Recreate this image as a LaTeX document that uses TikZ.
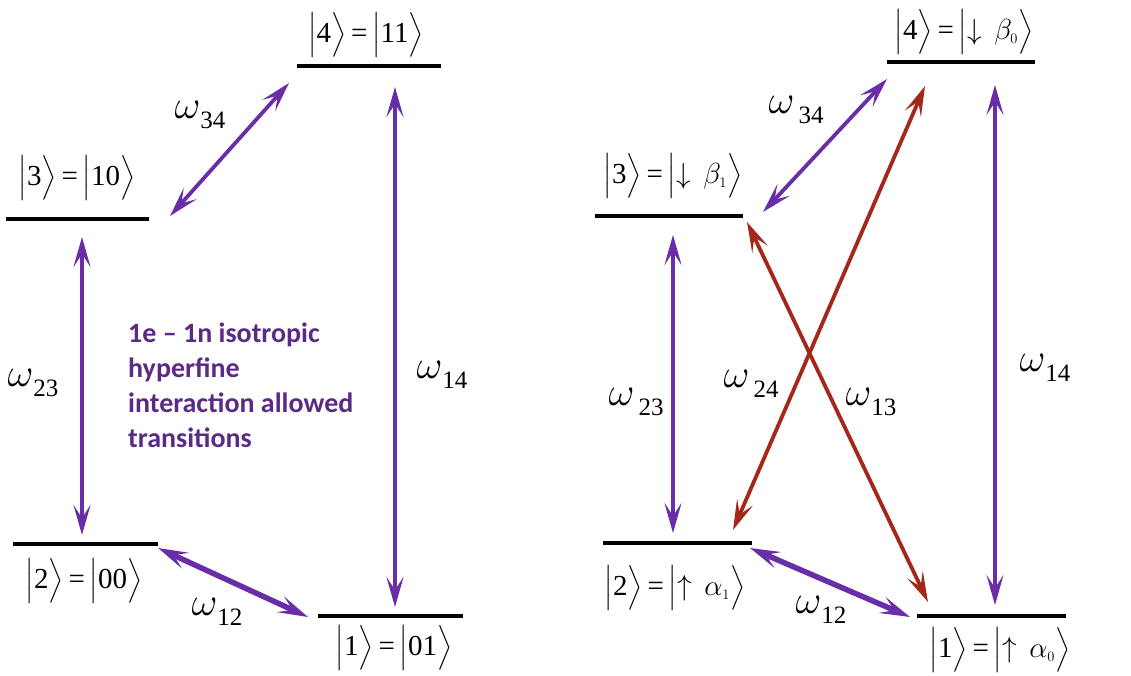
\RequirePackage{fix-cm}
\documentclass[tikz,border=0pt]{standalone}
\usepackage{amsmath}
\usepackage{fontspec}
\setmainfont{Liberation Serif}
\newfontfamily\calib{Carlito}
\usetikzlibrary{arrows.meta}
\definecolor{vio}{HTML}{6A2DA8}
\definecolor{rd}{HTML}{A3281A}
\definecolor{txtvio}{HTML}{5B2A86}
\newcommand\om[1]{{\fontsize{40}{40}\selectfont$\omega$}\raisebox{-10pt}{\fontsize{25}{25}\selectfont #1}}
\newcommand\kt[1]{$\bigl|$#1$\bigr\rangle$}
\newcommand\eqs{\,=\,}
\tikzset{
  level/.style={line width=3.5pt},
  ket/.style={font=\fontsize{29}{29}\selectfont, inner sep=0pt},
  wlab/.style={inner sep=0pt},
  tr/.style={line width=3.8pt, vio, {Stealth[length=30pt,width=17pt,inset=13pt]}-{Stealth[length=30pt,width=17pt,inset=13pt]}},
  trr/.style={tr, rd},
  trw/.style={tr, line width=5.5pt},
}
\begin{document}
\begin{tikzpicture}[x=1pt,y=-1pt]
\useasboundingbox (0,0) rectangle (1131,676);
% ---------- left panel: levels ----------
\coordinate (L4a) at (297,66);  \coordinate (L4b) at (441,66);
\coordinate (L3a) at (6,219);   \coordinate (L3b) at (149,219);
\coordinate (L2a) at (13,544);  \coordinate (L2b) at (158,544);
\coordinate (L1a) at (318,616); \coordinate (L1b) at (463,616);
\foreach \n in {L4,L3,L2,L1} \draw[level] (\n a) -- (\n b);
\node[ket] (k4) at (366,35)  {\kt{4}\eqs\kt{11}};
\node[ket] (k3) at (77,178)  {\kt{3}\eqs\kt{10}};
\node[ket] (k2) at (84,581)  {\kt{2}\eqs\kt{00}};
\node[ket] (k1) at (394,648) {\kt{1}\eqs\kt{01}};
% arrows left
\coordinate (a34s) at (170,216); \coordinate (a34e) at (289,83);
\coordinate (a14s) at (395,87);  \coordinate (a14e) at (395,607);
\coordinate (a23s) at (82,237);  \coordinate (a23e) at (82,535);
\coordinate (a12s) at (158,548); \coordinate (a12e) at (308,617);
\draw[tr] (a34s) -- (a34e);
\draw[tr] (a14s) -- (a14e);
\draw[tr] (a23s) -- (a23e);
\draw[trw] (a12s) -- (a12e);
\node[wlab] (w34) at (200,115) {\om{34}};
\node[wlab] (w23) at (33,383)  {\om{23}};
\node[wlab] (w14) at (442,375) {\om{14}};
\node[wlab] (w12) at (217,612) {\om{12}};
\node[anchor=west, align=left, text=txtvio, inner sep=0pt,
      font=\calib\bfseries\fontsize{28}{35}\selectfont] (note) at (128,385)
  {1e – 1n isotropic\\hyperfine\\interaction allowed\\transitions};
% ---------- right panel: levels ----------
\coordinate (R4a) at (887,62);  \coordinate (R4b) at (1035,62);
\coordinate (R3a) at (595,216); \coordinate (R3b) at (743,216);
\coordinate (R2a) at (603,543); \coordinate (R2b) at (752,543);
\coordinate (R1a) at (917,616); \coordinate (R1b) at (1066,616);
\foreach \n in {R4,R3,R2,R1} \draw[level] (\n a) -- (\n b);
\node[ket] (r4) at (964,32)   {\kt{4}\eqs\kt{$\downarrow\,\beta_{\scriptscriptstyle 0}$}};
\node[ket] (r3) at (673,176)  {\kt{3}\eqs\kt{$\downarrow\,\beta_{\scriptscriptstyle 1}$}};
\node[ket] (r2) at (675,588)  {\kt{2}\eqs\kt{$\uparrow\,\alpha_{\scriptscriptstyle 1}$}};
\node[ket] (r1) at (1000,650) {\kt{1}\eqs\kt{$\uparrow\,\alpha_{\scriptscriptstyle 0}$}};
% arrows right
\coordinate (b34s) at (763,212); \coordinate (b34e) at (887,79);
\coordinate (b24s) at (925,86);  \coordinate (b24e) at (733,530);
\coordinate (b13s) at (747,222); \coordinate (b13e) at (928,602);
\coordinate (b14s) at (995,85);  \coordinate (b14e) at (995,605);
\coordinate (b23s) at (673,235); \coordinate (b23e) at (673,533);
\coordinate (b12s) at (750,548); \coordinate (b12e) at (910,617);
\draw[tr] (b34s) -- (b34e);
\draw[trr] (b24s) -- (b24e);
\draw[trr] (b13s) -- (b13e);
\draw[tr] (b14s) -- (b14e);
\draw[tr] (b23s) -- (b23e);
\draw[trw] (b12s) -- (b12e);
\node[wlab] (v34) at (796,110)  {\om{\,34}};
\node[wlab] (v23) at (636,402)  {\om{\,23}};
\node[wlab] (v24) at (751,384)  {\om{\,24}};
\node[wlab] (v13) at (871,402)  {\om{13}};
\node[wlab] (v14) at (1045,368) {\om{14}};
\node[wlab] (v12) at (821,610)  {\om{12}};
\end{tikzpicture}
\end{document}
